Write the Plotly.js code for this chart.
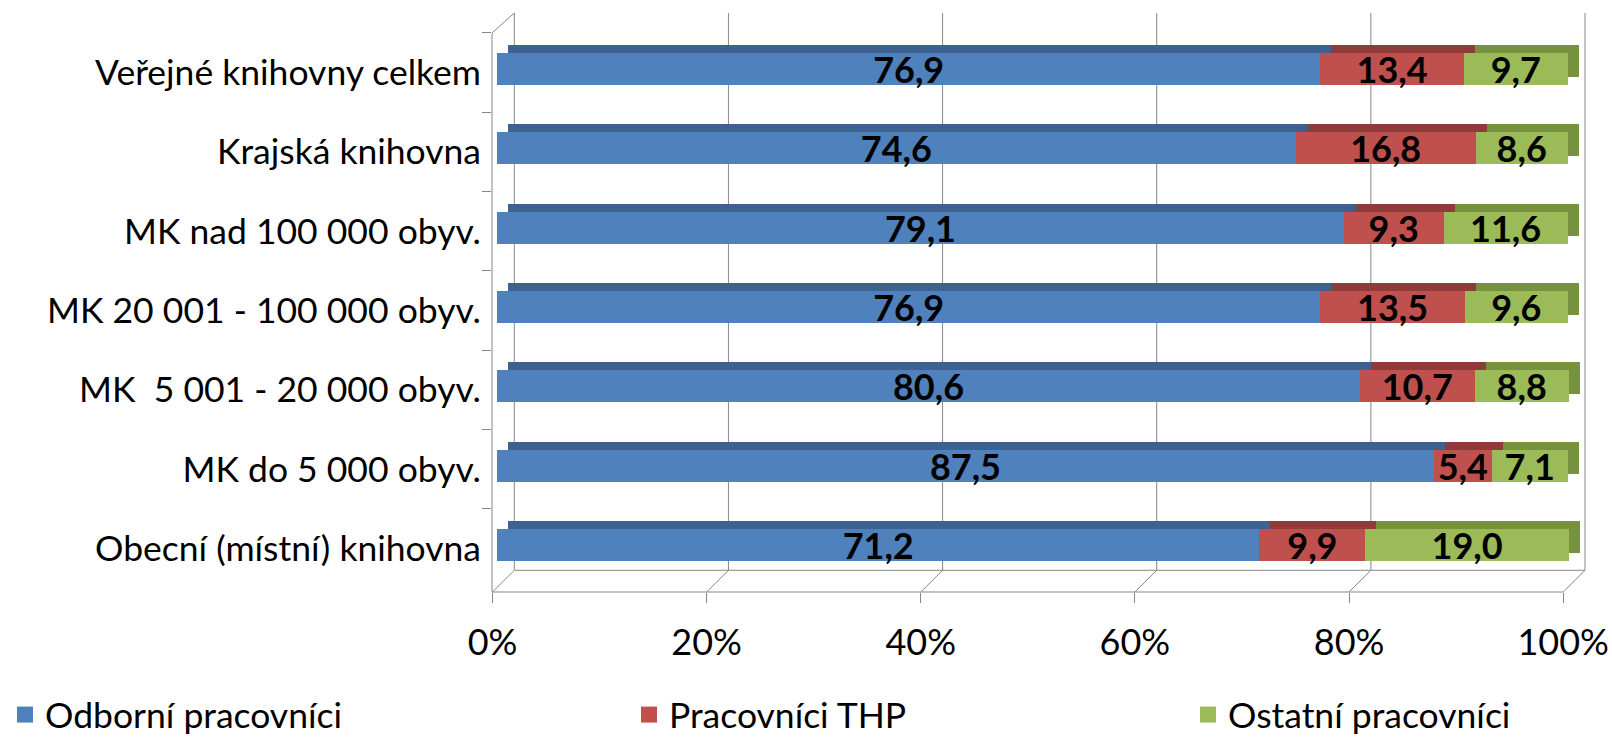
<!DOCTYPE html>
<html>
<head>
<meta charset="utf-8">
<script src="https://cdn.plot.ly/plotly-3.0.1.min.js"></script>
<style>html,body{margin:0;padding:0;background:#fff;}#chart{width:1612px;height:737px;}</style>
</head>
<body>
<div id="chart"></div>
<script>
// ---- data ----
const categories = [
  'Veřejné knihovny celkem',
  'Krajská knihovna',
  'MK nad 100 000 obyv.',
  'MK 20 001 - 100 000 obyv.',
  'MK  5 001 - 20 000 obyv.',
  'MK do 5 000 obyv.',
  'Obecní (místní) knihovna'
];
const odborni = [76.9, 74.6, 79.1, 76.9, 80.6, 87.5, 71.2];
const thp     = [13.4, 16.8,  9.3, 13.5, 10.7,  5.4,  9.9];
const ostatni = [ 9.7,  8.6, 11.6,  9.6,  8.8,  7.1, 19.0];
const seriesNames = ['Odborní pracovníci', 'Pracovníci THP', 'Ostatní pracovníci'];
const tickValues = [0, 20, 40, 60, 80, 100];

// ---- styling / geometry ----
const FONT = 'Lato, "Open Sans", sans-serif';
const frontColors = ['#4F81BD', '#C0504D', '#9BBB59'];
const topColors   = ['#3D6291', '#8E3B39', '#76923E'];
const GRAY = '#868686';

const L = 491.7, R = 1590, T = 13, B = 591.7;
const W = R - L, H = B - T;
const KX = 10.71;   // px per percent
const KY = 79.3;    // px per category
function xr(off) { return [-off / KX, (W - off) / KX]; }
function yr(c0) { const top = -(c0 - T) / KY; return [top + H / KY, top]; }
const BARW = 32 / KY;

// 3D frame geometry (pixel offsets)
const FRONT0 = 0.5, BACK0 = 22.3, YBACK = 570, YFRONTTOP = 33;
const px = (p) => (p - L) / W;
const py = (p) => (B - p) / H;

const seriesValues = [odborni, thp, ostatni];
const traces = [];
seriesValues.forEach((vals, i) => {
  traces.push({
    type: 'bar', orientation: 'h', x: vals, y: categories,
    xaxis: 'x', yaxis: 'y', width: BARW,
    marker: {color: topColors[i], line: {width: 0}},
    hoverinfo: 'skip', showlegend: false, textposition: 'none'
  });
});
seriesValues.forEach((vals, i) => {
  traces.push({
    type: 'bar', orientation: 'h', x: vals, y: categories,
    xaxis: 'x2', yaxis: 'y2', width: BARW,
    marker: {color: frontColors[i], line: {width: 0}},
    texttemplate: '%{x:.1f}', textposition: 'inside', insidetextanchor: 'middle',
    textangle: 0, constraintext: 'none', cliponaxis: false,
    textfont: {family: FONT, size: 36, weight: 'bold', color: '#000'},
    hoverinfo: 'skip', showlegend: false
  });
});
traces.push({type: 'scatter', mode: 'markers', x: [null], y: [null], xaxis: 'x3', yaxis: 'y3', showlegend: false, hoverinfo: 'skip'});
const legendIds = ['legend', 'legend2', 'legend3'];
seriesNames.forEach((nm, i) => {
  traces.push({
    type: 'scatter', mode: 'markers', x: [null], y: [null], xaxis: 'x2', yaxis: 'y2',
    name: nm, legend: legendIds[i], showlegend: true,
    marker: {symbol: 'square', size: 16, color: frontColors[i]}
  });
});

// frame lines (walls / floor of the 3D box)
const lineStyle = {color: GRAY, width: 1};
const shapes = [];
tickValues.forEach(v => {
  const xf = L + FRONT0 + v * KX, xb = L + BACK0 + v * KX;
  shapes.push({type: 'line', xref: 'paper', yref: 'paper', layer: 'below',
    x0: px(xb), x1: px(xb), y0: py(YBACK), y1: py(T), line: lineStyle});
  shapes.push({type: 'line', xref: 'paper', yref: 'paper', layer: 'below',
    x0: px(xf), x1: px(xb), y0: py(B), y1: py(YBACK), line: lineStyle});
});
const xMax = tickValues[tickValues.length - 1];
shapes.push({type: 'line', xref: 'paper', yref: 'paper', layer: 'below',
  x0: px(L + BACK0), x1: px(L + BACK0 + xMax * KX), y0: py(YBACK), y1: py(YBACK), line: lineStyle});
shapes.push({type: 'line', xref: 'paper', yref: 'paper', layer: 'below',
  x0: px(L), x1: px(L + FRONT0 + xMax * KX), y0: py(B), y1: py(B), line: lineStyle});
shapes.push({type: 'line', xref: 'paper', yref: 'paper', layer: 'below',
  x0: px(L), x1: px(L), y0: py(B), y1: py(YFRONTTOP), line: lineStyle});
shapes.push({type: 'line', xref: 'paper', yref: 'paper', layer: 'below',
  x0: px(L), x1: px(L + BACK0), y0: py(YFRONTTOP), y1: py(T), line: lineStyle});

const legendX = [5, 629, 1188];
const legendBase = (xpx) => ({
  xref: 'container', yref: 'container', x: xpx / 1612, y: 1 - 715 / 737,
  xanchor: 'left', yanchor: 'middle', orientation: 'h',
  bgcolor: 'rgba(0,0,0,0)', borderwidth: 0, itemwidth: 30,
  font: {family: FONT, size: 35.5, color: '#000'}
});

const catAxis = (range, extra) => Object.assign({
  type: 'category', categoryorder: 'array', categoryarray: categories,
  range: range, autorange: false, fixedrange: true
}, extra);

const layout = {
  width: 1612, height: 737,
  margin: {l: L, r: 1612 - R, t: T, b: 737 - B, autoexpand: false},
  paper_bgcolor: '#fff', plot_bgcolor: 'rgba(0,0,0,0)',
  barmode: 'stack', bargap: 0, hovermode: false,
  separators: ', ',
  font: {family: FONT, color: '#000'},
  xaxis: {range: xr(16), autorange: false, visible: false, anchor: 'y'},
  yaxis: catAxis(yr(60.8), {visible: false, anchor: 'x'}),
  xaxis2: {range: xr(5), autorange: false, visible: false, overlaying: 'x', anchor: 'y2'},
  yaxis2: catAxis(yr(68.8), {visible: false, overlaying: 'y', anchor: 'x2'}),
  xaxis3: {
    range: xr(FRONT0), autorange: false, overlaying: 'x', anchor: 'y3',
    tickmode: 'array', tickvals: tickValues, ticktext: tickValues.map(v => v + '%'),
    ticks: 'outside', ticklen: 10, tickcolor: GRAY, tickwidth: 1,
    showline: false, showgrid: false, zeroline: false,
    tickfont: {family: FONT, size: 36, color: '#000'}, ticklabelstandoff: 9
  },
  yaxis3: catAxis(yr(72.5), {
    overlaying: 'y', anchor: 'x3', side: 'left',
    ticks: 'outside', tickson: 'boundaries', ticklen: 9, tickcolor: GRAY, tickwidth: 1,
    showline: false, showgrid: false, zeroline: false,
    tickfont: {family: FONT, size: 35.5, color: '#000'}, ticklabelstandoff: 10
  }),
  shapes: shapes,
  legend: legendBase(legendX[0]),
  legend2: legendBase(legendX[1]),
  legend3: legendBase(legendX[2])
};

Plotly.newPlot('chart', traces, layout, {staticPlot: true, displayModeBar: false});
</script>
</body>
</html>
